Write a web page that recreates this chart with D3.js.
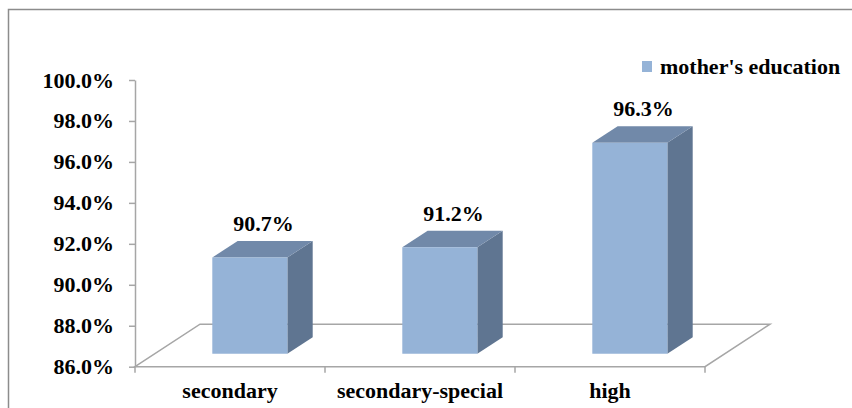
<!DOCTYPE html>
<html>
<head>
<meta charset="utf-8">
<script src="https://cdn.jsdelivr.net/npm/d3@7"></script>
<style>
  body { margin: 0; background: #fff; }
  text { font-family: "Liberation Serif", "Times New Roman", serif; font-weight: bold; fill: #000; }
</style>
</head>
<body>
<svg id="chart" width="852" height="408"></svg>
<script>
// data
var categories = ["secondary", "secondary-special", "high"];
var values = [90.7, 91.2, 96.3];
var seriesName = "mother's education";
var yTicks = [86, 88, 90, 92, 94, 96, 98, 100];

var svg = d3.select("#chart");
var W = 852, H = 408;

// frame
svg.append("rect")
  .attr("x", 8.5).attr("y", 9.5)
  .attr("width", W).attr("height", H)
  .attr("fill", "#fff")
  .attr("stroke", "#8c8c8c")
  .attr("stroke-width", 1.5);

// 3d layout
var x0 = 135, x1 = 705;
var DX = 65, DY = -42.5;      // floor depth offset
var dFront = 0.305, dBack = 0.695; // bar depth within floor

var y = d3.scaleLinear().domain([86, 100]).range([366.7, 80]);
var x = d3.scaleBand().domain(categories).range([x0, x1]);
var barW = x.bandwidth() * 0.395;

var base = y(86);

// floor
var floor = [
  [x0, base], [x0 + DX, base + DY], [x1 + DX, base + DY], [x1, base]
];
svg.append("path")
  .attr("d", "M" + floor.join("L") + "Z")
  .attr("fill", "none")
  .attr("stroke", "#a6a6a6")
  .attr("stroke-width", 1.5);

// category ticks on front edge
svg.append("g").selectAll("line")
  .data([x0].concat(categories.map(function (c) { return x(c) + x.bandwidth(); })))
  .enter().append("line")
    .attr("x1", function (d) { return d; })
    .attr("x2", function (d) { return d; })
    .attr("y1", base).attr("y2", base + 6)
    .attr("stroke", "#a6a6a6")
    .attr("stroke-width", 1.5);

// y axis
var yAxis = svg.append("g")
  .attr("transform", "translate(" + x0 + ",0)")
  .call(d3.axisLeft(y).tickValues(yTicks).tickSize(6).tickSizeOuter(0)
    .tickFormat(function (d) { return d.toFixed(1) + "%"; }));
yAxis.select(".domain").attr("stroke", "#a6a6a6").attr("stroke-width", 1.5);
yAxis.selectAll(".tick line").attr("stroke", "#a6a6a6").attr("stroke-width", 1.5);
yAxis.selectAll(".tick text")
  .attr("x", null).attr("dy", null)
  .attr("transform", "translate(-21,7) scale(1.1,1)")
  .style("font-size", "20px")
  .attr("font-family", null);

// bars
var data = categories.map(function (c, i) { return { cat: c, val: values[i] }; });
var bars = svg.append("g").selectAll("g").data(data).enter().append("g");

function pts(d) {
  var cx = x(d.cat) + x.bandwidth() / 2;
  var fl = cx - barW / 2 + dFront * DX, fr = fl + barW;
  var fb = base + dFront * DY, ft = y(d.val) + dFront * DY;
  var ox = (dBack - dFront) * DX, oy = (dBack - dFront) * DY;
  return { fl: fl, fr: fr, fb: fb, ft: ft, ox: ox, oy: oy };
}

bars.append("path") // side
  .attr("d", function (d) {
    var p = pts(d);
    return "M" + [[p.fr, p.fb], [p.fr + p.ox, p.fb + p.oy], [p.fr + p.ox, p.ft + p.oy], [p.fr, p.ft]].join("L") + "Z";
  })
  .attr("fill", "#5f7591");

bars.append("path") // top
  .attr("d", function (d) {
    var p = pts(d);
    return "M" + [[p.fl, p.ft], [p.fl + p.ox, p.ft + p.oy], [p.fr + p.ox, p.ft + p.oy], [p.fr, p.ft]].join("L") + "Z";
  })
  .attr("fill", "#7189a9");

bars.append("rect") // front
  .attr("x", function (d) { return pts(d).fl; })
  .attr("y", function (d) { return pts(d).ft; })
  .attr("width", barW)
  .attr("height", function (d) { var p = pts(d); return p.fb - p.ft; })
  .attr("fill", "#95b3d7");

// value labels
bars.append("text")
  .attr("transform", function (d) {
    var p = pts(d);
    var cx = x(d.cat) + x.bandwidth() / 2 + 0.5 * DX + 1;
    return "translate(" + cx + "," + (p.ft + p.oy - 10) + ") scale(1.1,1)";
  })
  .attr("text-anchor", "middle")
  .style("font-size", "20px")
  .text(function (d) { return d.val.toFixed(1) + "%"; });

// category labels
svg.append("g").selectAll("text").data(categories).enter().append("text")
  .attr("transform", function (d) {
    return "translate(" + (x(d) + x.bandwidth() / 2) + ",398) scale(1.1,1)";
  })
  .attr("text-anchor", "middle")
  .style("font-size", "20px")
  .text(function (d) { return d; });

// legend
var lg = svg.append("g").attr("transform", "translate(642,61)");
lg.append("rect").attr("width", 10).attr("height", 11).attr("fill", "#95b3d7");
lg.append("text")
  .attr("transform", "translate(18,12.5) scale(1.1,1)")
  .style("font-size", "20px")
  .text(seriesName);
</script>
</body>
</html>
